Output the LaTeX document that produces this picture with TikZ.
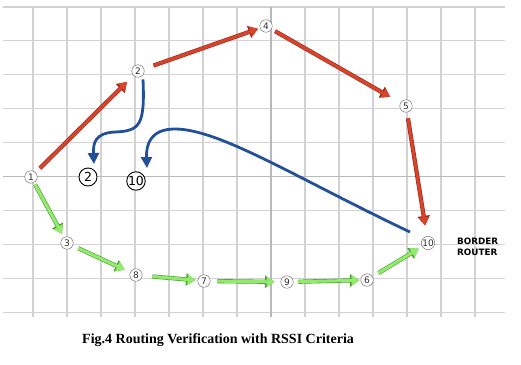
\documentclass[tikz,border=0pt]{standalone}
\usepackage{fontspec}
\setmainfont{Liberation Serif}
\setsansfont{DejaVu Sans}
\usetikzlibrary{arrows.meta}
\definecolor{hopred}{HTML}{D8432B}
\definecolor{hopredline}{HTML}{9A2B1C}
\definecolor{hopgreen}{HTML}{92EC6C}
\definecolor{hopgreenline}{HTML}{4F9A36}
\definecolor{rssiblue}{HTML}{24509A}
\tikzset{
  gridline/.style={draw=gray!35, line width=1.1pt},
  axisline/.style={draw=gray!55, line width=1.3pt},
  mote/.style={circle, draw=gray!75!black, fill=white, inner sep=0pt,
    minimum size=12.5pt, text=gray!35!black,
    font=\sffamily\fontsize{9}{9}\selectfont},
  bigmote/.style={circle, draw=black, line width=0.9pt, fill=white,
    inner sep=0pt, minimum size=18pt,
    font=\sffamily\fontsize{12.5}{12.5}\selectfont},
  redhop/.style={draw=hopred, line width=3pt,
    -{Triangle[length=8pt,width=10pt]},
    preaction={draw=hopredline, line width=4.2pt,
      -{Triangle[length=9.5pt,width=12pt]}}},
  greenhop/.style={draw=hopgreen, line width=3pt,
    -{Triangle[length=8pt,width=10pt]},
    preaction={draw=hopgreenline, line width=4.2pt,
      -{Triangle[length=9.5pt,width=12pt]}}},
  rssicurve/.style={draw=rssiblue, line width=2.8pt,
    -{Triangle[length=11pt,width=11pt]}}
}

\begin{document}
\begin{tikzpicture}[x=1pt, y=-1pt]
  \useasboundingbox (0,0) rectangle (521,364);

  % Grid
  \foreach \i in {0,...,13}
    \draw[gridline] ({33+34*\i},7) -- ({33+34*\i},317);
  \foreach \j in {0,...,9}
    \draw[gridline] (3,{7+33.9*\j}) -- (505,{7+33.9*\j});
  \draw[axisline] (3,176.5) -- (505,176.5);
  \draw[axisline] (271,7) -- (271,317);

  % Motes
  \node[mote] (n1) at (31,177) {1};
  \node[mote] (n2) at (138,71) {2};
  \node[mote] (n4) at (266,26) {4};
  \node[mote] (n5) at (406,106) {5};
  \node[mote] (n10) at (428,243) {10};
  \node[mote] (n3) at (67,243) {3};
  \node[mote] (n8) at (136,275) {8};
  \node[mote] (n7) at (204,281) {7};
  \node[mote] (n9) at (287,282) {9};
  \node[mote] (n6) at (367,280) {6};
  \node[font=\sffamily\bfseries\fontsize{8.8}{11}\selectfont, align=left,
    anchor=west, inner sep=0pt] (br) at (457,247) {BORDER\\ROUTER};

  % Parent choices
  \node[bigmote] (p2) at (88,177) {2};
  \node[bigmote] (p10) at (136,181) {10};

  % Red route
  \draw[redhop, shorten <=6pt, shorten >=9pt] (n1) -- (n2);
  \draw[redhop, shorten <=10pt, shorten >=2pt] (n2) -- (n4);
  \draw[redhop, shorten <=4pt, shorten >=12pt] (n4) -- (n5);
  \draw[redhop, shorten <=6pt, shorten >=11pt] (n5) -- (n10);

  % Green route
  \draw[greenhop, shorten <=2pt, shorten >=4pt] (n1) -- (n3);
  \draw[greenhop, shorten <=6pt, shorten >=6pt] (n3) -- (n8);
  \draw[greenhop, shorten <=10pt, shorten >=2pt] (n8) -- (n7);
  \draw[greenhop, shorten <=7pt, shorten >=6pt] (n7) -- (n9);
  \draw[greenhop, shorten <=5pt, shorten >=1pt] (n9) -- (n6);
  \draw[greenhop, shorten <=7pt, shorten >=4pt] (n6) -- (n10);

  % RSSI checks
  \coordinate (t2) at (94,164);
  \coordinate (t10) at (147,168);
  \coordinate (s10) at (410,232);
  \draw[rssicurve] ([xshift=5pt,yshift=-2pt]n2.south)
    .. controls (145,125) and (140,131) .. (115,132)
    .. controls (95,133) and (93,143) .. (t2);
  \draw[rssicurve] (s10)
    .. controls (300,180) and (220,129) .. (175,129)
    .. controls (150,129) and (146,145) .. (t10);

  % Caption
  \node[font=\bfseries\fontsize{14}{16}\selectfont, anchor=west,
    inner sep=0pt] (cap) at (82,340) {Fig.4 Routing Verification with RSSI Criteria};
\end{tikzpicture}
\end{document}
